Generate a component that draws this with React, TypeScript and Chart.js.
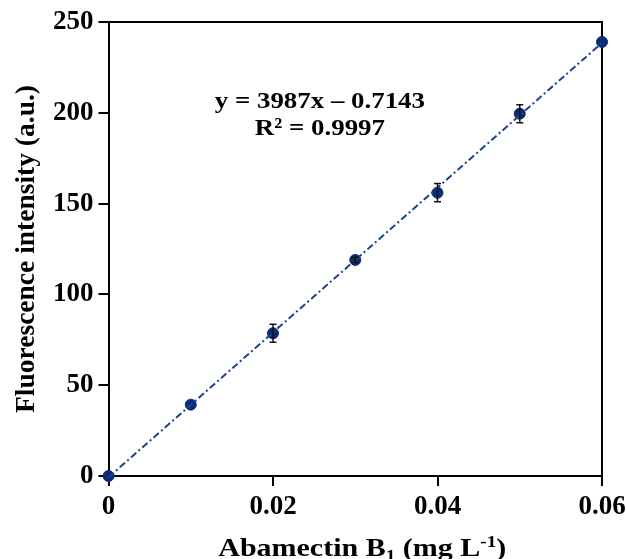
import React, { useEffect, useRef } from "react";
import { Chart, registerables } from "chart.js";

Chart.register(...registerables);

// Data
const concentrations = [0, 0.01, 0.02, 0.03, 0.04, 0.05, 0.06];
const intensity = [0, 39.3, 78.6, 119, 156, 199.5, 239];
const errors = [0, 0, 5, 1.5, 5, 5, 0];
const fitX = [0, 0.06];
const fitY = [-0.7, 238.5];
const xTicks = [0, 0.02, 0.04, 0.06];
const yTicks = [0, 50, 100, 150, 200, 250];
const equationLines = ["y = 3987x \u2013 0.7143", "R\u00B2 = 0.9997"];
const yTitle = "Fluorescence intensity (a.u.)";
const xTitleParts = [
  { text: "Abamectin B", mode: "normal" },
  { text: "1", mode: "sub" },
  { text: " (mg L", mode: "normal" },
  { text: "-1", mode: "sup" },
  { text: ")", mode: "normal" },
];

const FONT = "'Liberation Serif', 'Times New Roman', serif";
const NAVY = "#0b2c74";
const LINE = "#1b428e";

const errorBarPlugin = {
  id: "errorBars",
  afterDatasetsDraw(chart: any) {
    const ctx = chart.ctx;
    const xs = chart.scales.x;
    const ys = chart.scales.y;
    ctx.save();
    ctx.strokeStyle = "#111";
    ctx.lineWidth = 1.5;
    concentrations.forEach((c, i) => {
      const e = errors[i];
      if (!e) return;
      const px = xs.getPixelForValue(c);
      const top = ys.getPixelForValue(intensity[i] + e);
      const bot = ys.getPixelForValue(intensity[i] - e);
      ctx.beginPath();
      ctx.moveTo(px, top);
      ctx.lineTo(px, bot);
      ctx.moveTo(px - 3.5, top);
      ctx.lineTo(px + 3.5, top);
      ctx.moveTo(px - 3.5, bot);
      ctx.lineTo(px + 3.5, bot);
      ctx.stroke();
    });
    ctx.restore();
  },
};

const framePlugin = {
  id: "frameAndText",
  beforeDatasetsDraw(chart: any) {
    const ctx = chart.ctx;
    const a = chart.chartArea;
    ctx.save();
    ctx.strokeStyle = "#000";
    ctx.lineWidth = 2;
    ctx.beginPath();
    ctx.moveTo(a.left, a.top);
    ctx.lineTo(a.right, a.top);
    ctx.lineTo(a.right, a.bottom);
    ctx.stroke();
    ctx.restore();
  },
  afterDraw(chart: any) {
    const ctx = chart.ctx;
    const a = chart.chartArea;
    const xs = chart.scales.x;
    const ys = chart.scales.y;
    ctx.save();
    ctx.fillStyle = "#000";

    // equation text (slightly widened like the reference)
    ctx.font = `bold 24px ${FONT}`;
    ctx.textAlign = "center";
    ctx.textBaseline = "middle";
    const ex = xs.getPixelForValue(0.0257);
    [206, 191].forEach((v, i) => {
      ctx.save();
      ctx.translate(ex, ys.getPixelForValue(v));
      ctx.scale(1.12, 1);
      ctx.fillText(equationLines[i], 0, 0);
      ctx.restore();
    });

    // y title
    ctx.save();
    ctx.translate(27, (a.top + a.bottom) / 2);
    ctx.rotate(-Math.PI / 2);
    ctx.scale(1.1, 1.12);
    ctx.font = `bold 25px ${FONT}`;
    ctx.fillText(yTitle, 0, 0);
    ctx.restore();

    // x title with sub/superscript
    const big = `bold 25px ${FONT}`;
    const small = `bold 16px ${FONT}`;
    let total = 0;
    const widths = xTitleParts.map((p) => {
      ctx.font = p.mode === "normal" ? big : small;
      const w = ctx.measureText(p.text).width;
      total += w;
      return w;
    });
    ctx.save();
    ctx.translate((a.left + a.right) / 2 + 7, 556);
    ctx.scale(1.2, 1.05);
    let x = -total / 2;
    ctx.textAlign = "left";
    ctx.textBaseline = "alphabetic";
    xTitleParts.forEach((p, i) => {
      ctx.font = p.mode === "normal" ? big : small;
      const dy = p.mode === "sub" ? 5 : p.mode === "sup" ? -9 : 0;
      ctx.fillText(p.text, x, dy);
      x += widths[i];
    });
    ctx.restore();
    ctx.restore();
  },
};

export default function App() {
  const ref = useRef<HTMLCanvasElement | null>(null);

  useEffect(() => {
    if (!ref.current) return;
    const chart = new Chart(ref.current, {
      type: "scatter",
      data: {
        datasets: [
          {
            label: "Linear fit",
            data: fitX.map((x, i) => ({ x, y: fitY[i] })),
            showLine: true,
            borderColor: LINE,
            borderWidth: 2,
            borderDash: [7, 3, 2, 3],
            pointRadius: 0,
            fill: false,
            clip: false,
          },
          {
            label: "Fluorescence",
            data: concentrations.map((x, i) => ({ x, y: intensity[i] })),
            pointRadius: 5.5,
            pointBackgroundColor: NAVY,
            pointBorderColor: NAVY,
            showLine: false,
            clip: false,
          },
        ],
      },
      options: {
        responsive: false,
        animation: false,
        layout: { padding: { left: 0, right: 24, top: 22, bottom: 0 } },
        plugins: {
          legend: { display: false },
          tooltip: { enabled: false },
        },
        scales: {
          x: {
            type: "linear",
            min: 0,
            max: 0.06,
            afterBuildTicks: (s: any) => {
              s.ticks = xTicks.map((v) => ({ value: v }));
            },
            afterFit: (s: any) => {
              s.height = 83;
              s.paddingLeft = 0;
              s.paddingRight = 0;
            },
            ticks: {
              color: "#000",
              font: { family: FONT, size: 27, weight: "bold" },
              padding: 5,
              maxRotation: 0,
              callback: (v: any) => (v === 0 ? "0" : Number(v).toFixed(2)),
            },
            grid: {
              drawOnChartArea: false,
              drawTicks: true,
              tickLength: 10,
              color: "#000",
              lineWidth: 2,
            },
            border: { display: true, color: "#000", width: 2 },
          },
          y: {
            type: "linear",
            min: 0,
            max: 250,
            afterBuildTicks: (s: any) => {
              s.ticks = yTicks.map((v) => ({ value: v }));
            },
            afterFit: (s: any) => {
              s.width = 108.5;
              s.paddingTop = 0;
              s.paddingBottom = 0;
            },
            ticks: {
              color: "#000",
              font: { family: FONT, size: 27, weight: "bold" },
              padding: 5,
            },
            grid: {
              drawOnChartArea: false,
              drawTicks: true,
              tickLength: 10,
              color: "#000",
              lineWidth: 2,
            },
            border: { display: true, color: "#000", width: 2 },
          },
        },
      },
      plugins: [errorBarPlugin, framePlugin],
    });
    return () => chart.destroy();
  }, []);

  return (
    <div style={{ position: "absolute", left: 0, top: 0, width: 626, height: 559, background: "#fff" }}>
      <canvas ref={ref} width={626} height={559} style={{ display: "block" }} />
    </div>
  );
}
